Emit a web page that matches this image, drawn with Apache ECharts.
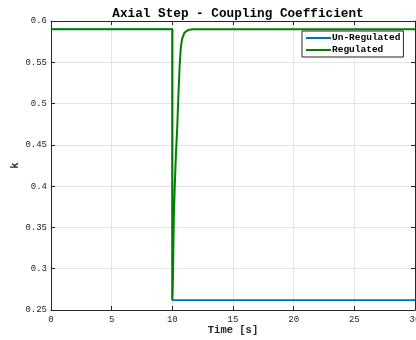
<!DOCTYPE html>
<html>
<head>
<meta charset="utf-8">
<script src="https://cdn.jsdelivr.net/npm/echarts@6/dist/echarts.min.js"></script>
<style>
  html, body { margin: 0; padding: 0; background: #fff; }
  #chart { width: 416px; height: 340px; }
</style>
</head>
<body>
<div id="chart"></div>
<script>
// Time (s) and coupling coefficient k for the axial step response
const unregTime = [0, 10, 10, 30];
const unregK    = [0.59, 0.59, 0.262, 0.262];

const regTime = [0, 10, 10, 10.05, 10.12, 10.2, 10.3, 10.4, 10.5, 10.6, 10.7, 10.8, 11.0, 11.3, 11.7, 30];
const regK    = [0.59, 0.59, 0.262, 0.29, 0.36, 0.40, 0.44, 0.47, 0.51, 0.545, 0.568, 0.578, 0.586, 0.589, 0.59, 0.59];

const xTicks = { min: 0, max: 30, interval: 5 };
const yTicks = { min: 0.25, max: 0.6, interval: 0.05 };

const FONT = '"Liberation Mono", "DejaVu Sans Mono", monospace';

const pairs = (xs, ys) => xs.map((x, i) => [x, ys[i]]);

const axisCommon = {
  axisLine: { show: true, onZero: false, lineStyle: { color: '#262626', width: 1 } },
  axisTick: { show: true, inside: true, length: 4, lineStyle: { color: '#262626' } },
  axisLabel: { color: '#262626', fontFamily: FONT, fontSize: 9 },
};

const chart = echarts.init(document.getElementById('chart'), null, { renderer: 'canvas' });
chart.setOption({
  animation: false,
  backgroundColor: '#fff',
  title: {
    text: 'Axial Step - Coupling Coefficient',
    left: 233, top: 2, textAlign: 'center',
    textStyle: { fontFamily: FONT, fontSize: 12.7, fontWeight: 'bold', color: '#000' }
  },
  grid: { left: 51, right: 1, top: 21, bottom: 30, containLabel: false, outerBoundsMode: 'none' },
  legend: {
    left: 302, top: 31, orient: 'vertical',
    icon: 'rect',
    itemWidth: 25, itemHeight: 2, itemGap: 2,
    padding: [2, 3, 2, 4],
    backgroundColor: '#fff', borderColor: '#262626', borderWidth: 1, borderRadius: 0,
    textStyle: { fontFamily: FONT, fontSize: 9.5, fontWeight: 'bold', color: '#000', padding: [0, 0, 0, -4], lineHeight: 10 },
    data: ['Un-Regulated', 'Regulated']
  },
  xAxis: [
    Object.assign({}, axisCommon, {
      type: 'value', min: xTicks.min, max: xTicks.max, interval: xTicks.interval,
      name: 'Time [s]', nameLocation: 'middle', nameGap: 15, nameMoveOverlap: false,
      nameTextStyle: { fontFamily: FONT, fontSize: 10.5, fontWeight: 'bold', color: '#262626' },
      axisLabel: Object.assign({}, axisCommon.axisLabel, { margin: 5 }),
      splitLine: { show: true, lineStyle: { color: '#e3e3e3', width: 1 } }
    }),
    Object.assign({}, axisCommon, {
      type: 'value', position: 'top', min: xTicks.min, max: xTicks.max, interval: xTicks.interval,
      axisLabel: { show: false }, splitLine: { show: false }
    })
  ],
  yAxis: [
    Object.assign({}, axisCommon, {
      type: 'value', min: yTicks.min, max: yTicks.max, interval: yTicks.interval,
      name: 'k', nameLocation: 'middle', nameGap: 30, nameRotate: 90, nameMoveOverlap: false,
      nameTextStyle: { fontFamily: FONT, fontSize: 10.5, fontWeight: 'bold', color: '#262626' },
      axisLabel: Object.assign({}, axisCommon.axisLabel, { margin: 4 }),
      splitLine: { show: true, lineStyle: { color: '#e3e3e3', width: 1 } }
    }),
    Object.assign({}, axisCommon, {
      type: 'value', position: 'right', min: yTicks.min, max: yTicks.max, interval: yTicks.interval,
      axisLabel: { show: false }, splitLine: { show: false }
    })
  ],
  series: [
    {
      name: 'Un-Regulated', type: 'line', symbol: 'none',
      data: pairs(unregTime, unregK),
      lineStyle: { color: '#0072BD', width: 1.6 }, itemStyle: { color: '#0072BD' }
    },
    {
      name: 'Regulated', type: 'line', symbol: 'none', smooth: false,
      data: pairs(regTime, regK),
      lineStyle: { color: '#008000', width: 2 }, itemStyle: { color: '#008000' }
    }
  ]
});
</script>
</body>
</html>
